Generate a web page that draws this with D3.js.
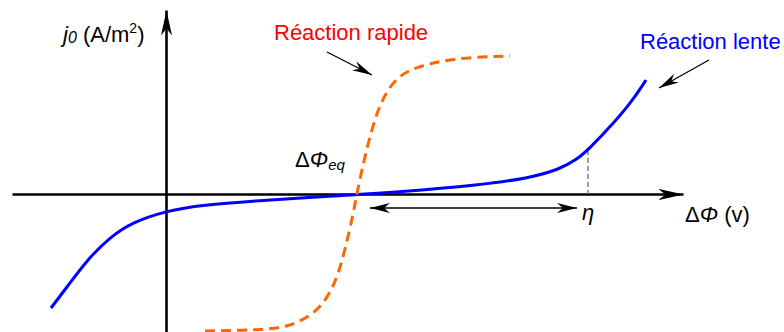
<!DOCTYPE html>
<html>
<head>
<meta charset="utf-8">
<script src="https://cdn.jsdelivr.net/npm/d3@7"></script>
<style>
  body { margin: 0; background: #fff; }
  svg { display: block; font-family: "Liberation Sans", Arial, sans-serif; }
</style>
</head>
<body>
<svg id="chart" width="784" height="332"></svg>
<script>
// curves in arbitrary units (x: potential difference, y: current density)
const lenteX = [-1.15, -0.99, -0.79, -0.56, -0.33, 0, 0.34, 1.01, 1.67, 2.34, 3.14, 3.64, 3.94, 4.1, 4.22, 4.47, 4.67, 4.8]
const lenteY = [-1.14, -0.93, -0.66, -0.43, -0.28, -0.17, -0.11, -0.06, -0.02, 0.02, 0.09, 0.16, 0.25, 0.34, 0.44, 0.7, 0.94, 1.14]

const rapideX = [0.39, 0.94, 1.24, 1.51, 1.64, 1.72, 1.79, 1.87, 1.91, 1.97, 2.03, 2.11, 2.21, 2.34, 2.51, 2.74, 3.07, 3.44]
const rapideY = [-1.37, -1.36, -1.33, -1.18, -0.99, -0.81, -0.56, -0.21, 0.01, 0.29, 0.54, 0.82, 1.04, 1.19, 1.27, 1.33, 1.37, 1.38]

const eqX = 2.04     // start of the overpotential arrow
const etaX = 4.22    // overpotential point on the slow curve
const etaY = 0.44

const xDomain = [-1.54, 5.17]
const yDomain = [-1.38, 1.84]

const svg = d3.select('#chart')

const xScale = d3.scaleLinear().domain(xDomain).range([12, 683])
const yScale = d3.scaleLinear().domain(yDomain).range([332, 10])

const defs = svg.append('defs')

function marker(id, len, half, notch) {
  defs.append('marker')
    .attr('id', id)
    .attr('viewBox', `0 ${-half} ${len} ${half * 2}`)
    .attr('refX', len)
    .attr('refY', 0)
    .attr('markerUnits', 'userSpaceOnUse')
    .attr('markerWidth', len)
    .attr('markerHeight', half * 2)
    .attr('orient', 'auto-start-reverse')
    .append('path')
    .attr('d', `M0,${-half}L${len},0L0,${half}L${notch},0Z`)
    .attr('fill', '#000')
}
marker('bigArrow', 25, 5.5, 7)
marker('smallArrow', 20, 5, 6)

// axes without ticks, crossing at the origin
const xAxis = svg.append('g')
  .attr('transform', `translate(0, ${yScale(0)})`)
  .call(d3.axisBottom(xScale).tickValues([]).tickSizeOuter(0))
xAxis.select('.domain')
  .attr('stroke-width', 2.6)
  .attr('marker-end', 'url(#bigArrow)')

const yAxis = svg.append('g')
  .attr('transform', `translate(${xScale(0)}, 0)`)
  .call(d3.axisLeft(yScale).tickValues([]).tickSizeOuter(0))
yAxis.select('.domain')
  .attr('stroke-width', 2.6)
  .attr('marker-end', 'url(#bigArrow)')

const line = d3.line()
  .x(d => xScale(d[0]))
  .y(d => yScale(d[1]))
  .curve(d3.curveBasis)

// guide from eta on the slow curve down to the axis
svg.append('line')
  .attr('x1', xScale(etaX)).attr('x2', xScale(etaX))
  .attr('y1', yScale(etaY)).attr('y2', yScale(0))
  .attr('stroke', '#808080')
  .attr('stroke-width', 1.5)
  .attr('stroke-dasharray', '5,3')

svg.append('path')
  .attr('d', line(d3.zip(lenteX, lenteY)))
  .attr('fill', 'none')
  .attr('stroke', '#0000ff')
  .attr('stroke-width', 3)

svg.append('path')
  .attr('d', line(d3.zip(rapideX, rapideY)))
  .attr('fill', 'none')
  .attr('stroke', '#ff6600')
  .attr('stroke-width', 3)
  .attr('stroke-dasharray', '10,6')

// overpotential double arrow
svg.append('line')
  .attr('x1', xScale(eqX)).attr('x2', xScale(etaX - 0.11))
  .attr('y1', yScale(-0.14)).attr('y2', yScale(-0.14))
  .attr('stroke', '#000')
  .attr('stroke-width', 1.4)
  .attr('marker-start', 'url(#smallArrow)')
  .attr('marker-end', 'url(#smallArrow)')

// pointer arrows to the labels
svg.append('line')
  .attr('x1', xScale(1.61)).attr('x2', xScale(2.06))
  .attr('y1', yScale(1.42)).attr('y2', yScale(1.19))
  .attr('stroke', '#000').attr('stroke-width', 1.3)
  .attr('marker-end', 'url(#smallArrow)')

svg.append('line')
  .attr('x1', xScale(5.43)).attr('x2', xScale(4.93))
  .attr('y1', yScale(1.34)).attr('y2', yScale(1.06))
  .attr('stroke', '#000').attr('stroke-width', 1.3)
  .attr('marker-end', 'url(#smallArrow)')

// labels
const fs = 22

const yLab = svg.append('text')
  .attr('x', xScale(-1.03)).attr('y', yScale(1.52))
  .attr('font-size', fs)
yLab.append('tspan').attr('font-style', 'italic').text('j')
yLab.append('tspan').attr('font-style', 'italic').attr('font-size', 16).attr('dy', 1).text('0')
yLab.append('tspan').attr('dy', -1).text(' (A/m')
yLab.append('tspan').attr('font-size', 14).attr('dy', -9).text('2')
yLab.append('tspan').attr('dy', 9).text(')')

svg.append('text')
  .attr('x', xScale(1.08)).attr('y', yScale(1.54))
  .attr('font-size', fs)
  .attr('fill', '#ff0000')
  .text('Réaction rapide')

svg.append('text')
  .attr('x', xScale(4.74)).attr('y', yScale(1.45))
  .attr('font-size', fs)
  .attr('fill', '#0000ff')
  .text('Réaction lente')

const eqLab = svg.append('text')
  .attr('x', xScale(1.29)).attr('y', yScale(0.27))
  .attr('font-size', fs)
eqLab.append('tspan').text('Δ')
eqLab.append('tspan').attr('font-style', 'italic').text('Φ')
eqLab.append('tspan').attr('font-style', 'italic').attr('font-size', 15).attr('dy', 3).text('eq')

svg.append('text')
  .attr('x', xScale(etaX)).attr('y', yScale(-0.26))
  .attr('font-size', fs)
  .attr('font-style', 'italic')
  .attr('text-anchor', 'middle')
  .text('η')

const xLab = svg.append('text')
  .attr('x', xScale(5.19)).attr('y', yScale(-0.28))
  .attr('font-size', fs)
xLab.append('tspan').text('Δ')
xLab.append('tspan').attr('font-style', 'italic').text('Φ')
xLab.append('tspan').text(' (v)')
</script>
</body>
</html>
